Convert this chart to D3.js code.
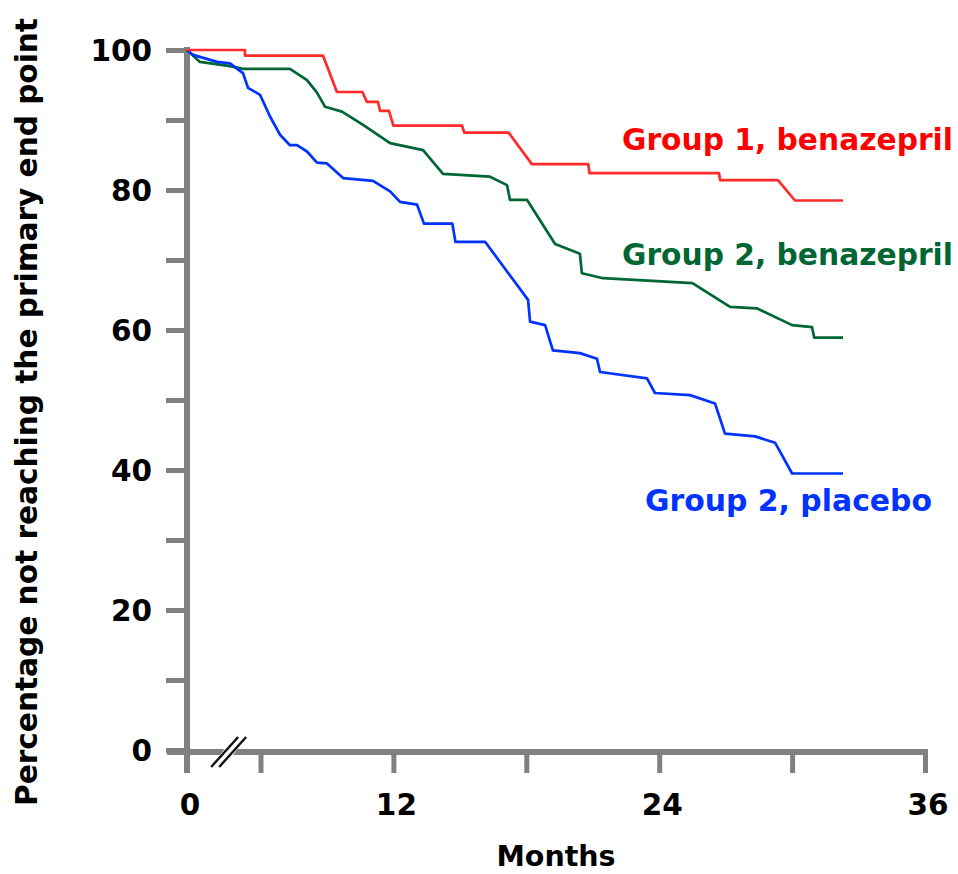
<!DOCTYPE html>
<html>
<head>
<meta charset="utf-8">
<script src="https://cdn.jsdelivr.net/npm/d3@7"></script>
<style>
  body { margin: 0; background: #fff; }
  text { font-family: "DejaVu Sans", Verdana, sans-serif; font-weight: bold; }
</style>
</head>
<body>
<div id="chart"></div>
<script>
// data (months, percent not reaching end point)
var group1Benazepril = [
  [0, 100], [4.73, 100], [4.73, 99.2], [8.82, 99.2], [9.45, 94.0], [10.6, 94.0],
  [10.8, 92.6], [11.3, 92.6], [11.4, 91.3], [11.8, 91.3], [12.0, 89.2], [15.1, 89.2],
  [15.2, 88.2], [17.2, 88.2], [18.25, 83.7], [20.8, 83.7], [20.85, 82.4], [26.7, 82.4],
  [26.75, 81.4], [29.36, 81.4], [30.13, 78.5], [32.3, 78.5]
];
var group2Benazepril = [
  [0, 100], [1.06, 98.3], [3.51, 97.7], [4.57, 97.3], [7.33, 97.3], [8.1, 95.7],
  [8.55, 93.9], [8.91, 91.9], [9.68, 91.2], [10.63, 89.3], [11.85, 86.7], [13.34, 85.7],
  [14.24, 82.3], [16.36, 81.9], [17.13, 80.7], [17.26, 78.6], [18.03, 78.6], [19.3, 72.3],
  [20.42, 70.9], [20.51, 68.1], [21.46, 67.4], [25.5, 66.7], [27.2, 63.3], [28.4, 63.1],
  [30.0, 60.7], [30.9, 60.4], [31.0, 58.9], [32.3, 58.9]
];
var group2Placebo = [
  [0, 100], [0.49, 99.3], [2.45, 98.3], [3.51, 98.1], [4.57, 96.7], [4.98, 94.6],
  [5.96, 93.6], [6.43, 90.5], [6.88, 87.9], [7.33, 86.4], [7.65, 86.4], [8.1, 85.5],
  [8.55, 83.9], [9.0, 83.8], [9.73, 81.7], [11.08, 81.3], [11.85, 79.8], [12.3, 78.3],
  [13.07, 77.9], [13.38, 75.2], [14.66, 75.2], [14.8, 72.6], [16.14, 72.6], [18.08, 64.3],
  [18.17, 61.2], [18.85, 60.7], [19.2, 57.1], [20.42, 56.7], [21.19, 55.9], [21.33, 54.0],
  [23.45, 53.1], [23.81, 51.0], [25.39, 50.7], [26.52, 49.5], [26.97, 45.2], [28.33, 44.8],
  [29.23, 43.9], [30.0, 39.5], [32.3, 39.5]
];
var seriesNames = ["Group 2, benazepril", "Group 2, placebo", "Group 1, benazepril"];
var xTicks = [6, 12, 18, 24, 30, 36];
var xLabels = [0, 12, 24, 36];
var yTicks = [0, 10, 20, 30, 40, 50, 60, 70, 80, 90, 100];
var yLabels = [0, 20, 40, 60, 80, 100];

var width = 958, height = 874;
var axisGray = "#808080";

var svg = d3.select("#chart").append("svg")
  .attr("width", width)
  .attr("height", height);

// broken axis: 0-6 months squeezed
var x = d3.scaleLinear()
  .domain([0, 6, 36])
  .range([187, 260.5, 925]);

var y = d3.scaleLinear()
  .domain([0, 100])
  .range([750, 50]);

// axis lines
svg.append("line")
  .attr("x1", x(0)).attr("x2", x(0))
  .attr("y1", y(100) - 3).attr("y2", y(0) + 23)
  .attr("stroke", axisGray).attr("stroke-width", 6);

svg.append("line")
  .attr("x1", x(0) - 20).attr("x2", x(36) + 3)
  .attr("y1", y(0) + 2).attr("y2", y(0) + 2)
  .attr("stroke", axisGray).attr("stroke-width", 6);

// y ticks
var yAxis = d3.axisLeft(y)
  .tickValues(yTicks)
  .tickSize(21)
  .tickPadding(14)
  .tickFormat(d => yLabels.indexOf(d) >= 0 ? d : "");

var yG = svg.append("g")
  .attr("transform", `translate(${x(0)}, 0)`)
  .call(yAxis);
yG.select(".domain").remove();
yG.selectAll(".tick line").attr("stroke", axisGray).attr("stroke-width", 5);
yG.selectAll(".tick text")
  .attr("font-size", 29.5)
  .attr("fill", "#000")
  .attr("dy", "0.36em")
  .style("font-family", "'DejaVu Sans', Verdana, sans-serif")
  .style("font-weight", "bold");

// x ticks
var xAxis = d3.axisBottom(x)
  .tickValues(xTicks)
  .tickSize(21)
  .tickFormat("");

var xG = svg.append("g")
  .attr("transform", `translate(0, ${y(0) + 2})`)
  .call(xAxis);
xG.select(".domain").remove();
xG.selectAll(".tick line").attr("stroke", axisGray).attr("stroke-width", 5);

svg.selectAll(".xlabel")
  .data(xLabels)
  .enter()
  .append("text")
  .attr("class", "xlabel")
  .attr("x", d => x(d) + 3)
  .attr("y", 815)
  .attr("text-anchor", "middle")
  .attr("font-size", 29.5)
  .text(d => d);

// axis break marks
var bx = x(3.4), by = y(0) + 2;
svg.append("path")
  .attr("d", `M${bx - 18},${by + 15} L${bx - 5},${by + 15} L${bx + 18},${by - 15} L${bx + 5},${by - 15} Z`)
  .attr("fill", "#fff");
[-4, 4].forEach(function(off) {
  svg.append("line")
    .attr("x1", bx + off - 13.5).attr("y1", by + 15)
    .attr("x2", bx + off + 13.5).attr("y2", by - 15)
    .attr("stroke", "#111").attr("stroke-width", 2.4);
});

// survival curves
var line = d3.line()
  .x(d => x(d[0]))
  .y(d => y(d[1]));

var curves = [
  { data: group2Benazepril, color: "#006633" },
  { data: group2Placebo, color: "#0033ff" },
  { data: group1Benazepril, color: "#ff2a2a" }
];

svg.selectAll(".curve")
  .data(curves)
  .enter()
  .append("path")
  .attr("class", "curve")
  .attr("d", d => line(d.data))
  .attr("fill", "none")
  .attr("stroke", d => d.color)
  .attr("stroke-width", 2.7)
  .attr("stroke-linejoin", "round");

// series labels
var labels = [
  { name: seriesNames[2], color: "#ff0000", x: 622, y: 150, len: 331 },
  { name: seriesNames[0], color: "#006633", x: 622, y: 265, len: 331 },
  { name: seriesNames[1], color: "#0033ff", x: 645, y: 511, len: 287 }
];

svg.selectAll(".serieslabel")
  .data(labels)
  .enter()
  .append("text")
  .attr("class", "serieslabel")
  .attr("x", d => d.x)
  .attr("y", d => d.y)
  .attr("font-size", 29.5)
  .attr("fill", d => d.color)
  .attr("textLength", d => d.len)
  .attr("lengthAdjust", "spacingAndGlyphs")
  .text(d => d.name);

// axis titles
svg.append("text")
  .attr("x", 556)
  .attr("y", 866)
  .attr("text-anchor", "middle")
  .attr("font-size", 28.5)
  .text("Months");

svg.append("text")
  .attr("transform", "translate(37, 412) rotate(-90)")
  .attr("text-anchor", "middle")
  .attr("font-size", 29.5)
  .attr("textLength", 788)
  .attr("lengthAdjust", "spacingAndGlyphs")
  .text("Percentage not reaching the primary end point");
</script>
</body>
</html>
